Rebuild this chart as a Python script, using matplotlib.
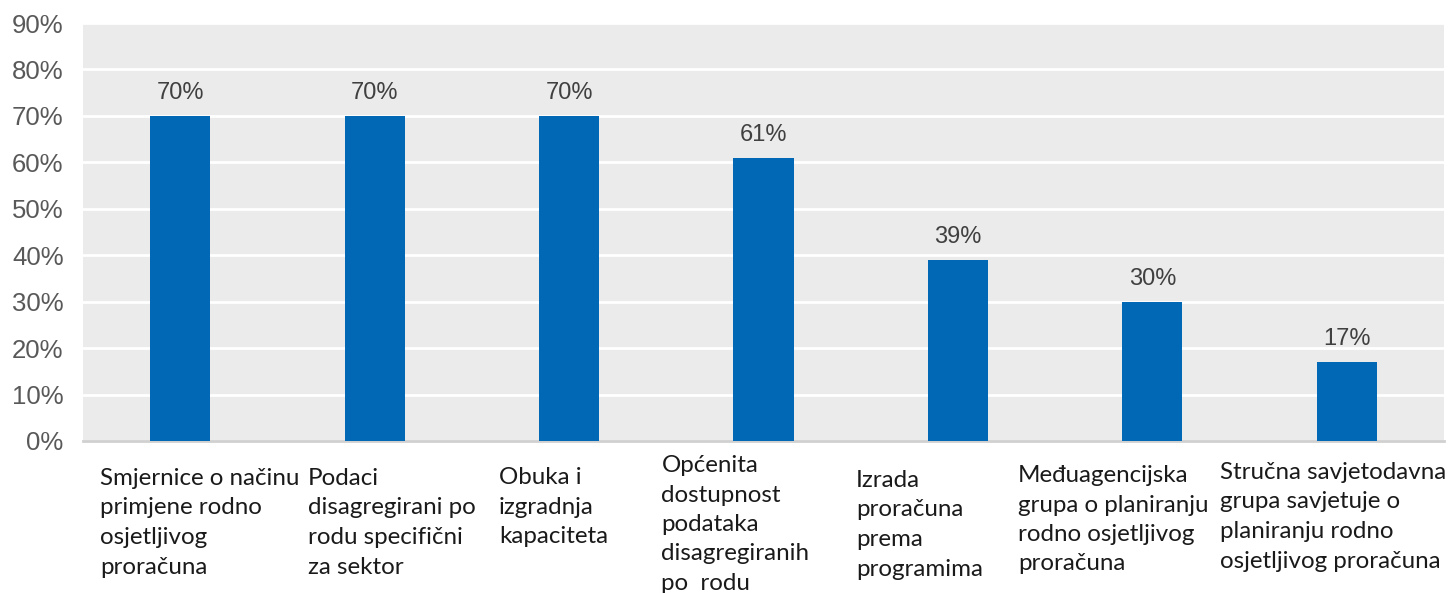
import matplotlib.pyplot as plt
import matplotlib.transforms as mtransforms
from matplotlib.ticker import PercentFormatter

# Podaci
kategorije = [
    'Smjernice o načinu\nprimjene rodno\nosjetljivog\nproračuna',
    'Podaci\ndisagregirani po\nrodu specifični\nza sektor',
    'Obuka i\nizgradnja\nkapaciteta',
    'Općenita\ndostupnost\npodataka\ndisagregiranih\npo  rodu',
    'Izrada\nproračuna\nprema\nprogramima',
    'Međuagencijska\ngrupa o planiranju\nrodno osjetljivog\nproračuna',
    'Stručna savjetodavna\ngrupa savjetuje o\nplaniranju rodno\nosjetljivog proračuna',
]
vrijednosti = [0.70, 0.70, 0.70, 0.61, 0.39, 0.30, 0.17]

# Položaj natpisa ispod stupaca (pomak po x, vrh teksta u pikselima)
pomak_x = [-0.41, -0.345, -0.36, -0.525, -0.525, -0.69, -0.65]
vrh_y = [468, 468, 467, 455, 470, 465, 462]

W, H = 1451, 593
fig = plt.figure(figsize=(W / 100, H / 100), dpi=100)
ax = fig.add_axes([83 / W, 1 - 441 / H, (1444 - 83) / W, (441 - 23) / H])
ax.set_facecolor('#ebebeb')

x = range(len(vrijednosti))
ax.bar(x, vrijednosti, width=0.31, color='#0068b5', zorder=3)

ax.set_xlim(-0.5, len(vrijednosti) - 0.5)
ax.set_ylim(0, 0.9)
ax.set_yticks([i / 10 for i in range(10)])
ax.yaxis.set_major_formatter(PercentFormatter(1.0, decimals=0))
ax.tick_params(axis='y', length=0, pad=14, labelsize=18.5, labelcolor='#595959')
ax.set_xticks([])
for lbl in ax.get_yticklabels():
    lbl.set_fontfamily('Liberation Sans')

ax.grid(axis='y', color='white', linewidth=2, zorder=1)
for s in ['top', 'right', 'left']:
    ax.spines[s].set_visible(False)
ax.spines['bottom'].set_color('#d0d0d0')
ax.spines['bottom'].set_linewidth(2)

# Vrijednosti iznad stupaca
for i, v in enumerate(vrijednosti):
    ax.text(i, v + 0.025, f'{round(v * 100)}%', ha='center', va='bottom',
            fontsize=17, color='#404040', family='Liberation Sans')

# Natpisi kategorija
trans = mtransforms.blended_transform_factory(ax.transData, fig.transFigure)
for i, k in enumerate(kategorije):
    ax.text(i + pomak_x[i], 1 - vrh_y[i] / H, k, transform=trans,
            ha='left', va='top', fontsize=17.4, linespacing=1.5,
            color='#1a1a1a', family='Lato', clip_on=False)

fig.savefig('out.png', dpi=100)
